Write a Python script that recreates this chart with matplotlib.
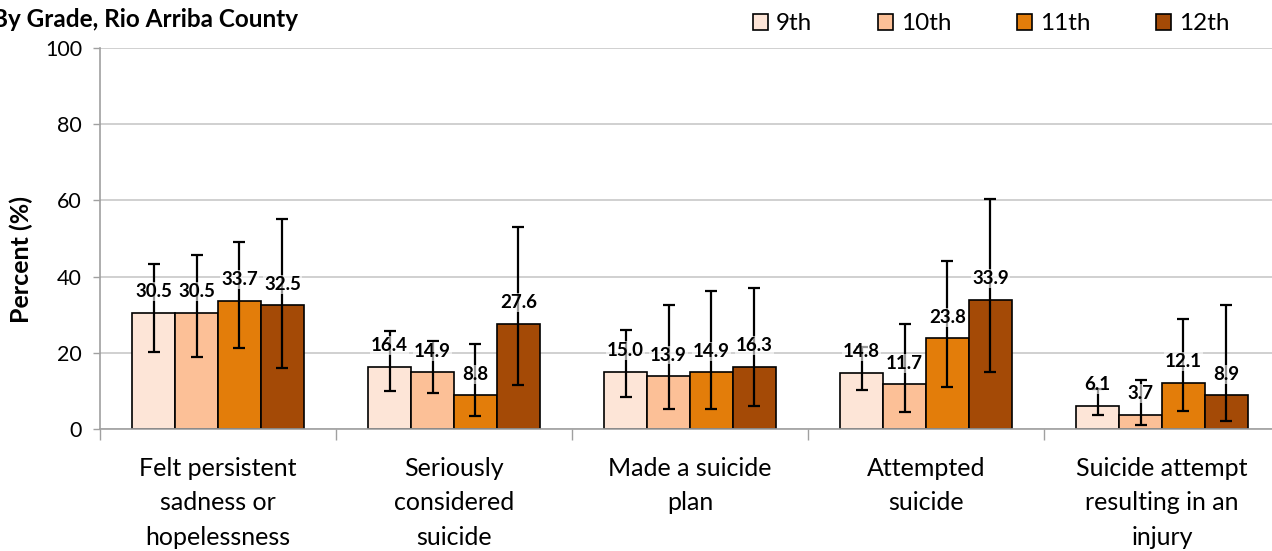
import matplotlib.pyplot as plt
import numpy as np

plt.rcParams['font.family'] = ['Lato', 'DejaVu Sans']

categorias = ["Felt persistent\nsadness or\nhopelessness", "Seriously\nconsidered\nsuicide",
              "Made a suicide\nplan", "Attempted\nsuicide", "Suicide attempt\nresulting in an\ninjury"]
grados = ["9th", "10th", "11th", "12th"]
colores = ["#FDE5D7", "#FCC097", "#E37D0A", "#A44A06"]

valores = [
    [30.5, 16.4, 15.0, 14.8, 6.1],
    [30.5, 14.9, 13.9, 11.7, 3.7],
    [33.7, 8.8, 14.9, 23.8, 12.1],
    [32.5, 27.6, 16.3, 33.9, 8.9],
]
ic_bajo = [
    [20.2, 10.1, 8.4, 10.2, 3.7],
    [18.8, 9.5, 5.2, 4.5, 1.1],
    [21.3, 3.4, 5.2, 11.1, 4.6],
    [16.1, 11.5, 6.0, 14.9, 2.1],
]
ic_alto = [
    [43.4, 25.8, 26.0, 21.5, 10.5],
    [45.7, 23.0, 32.5, 27.5, 12.8],
    [49.1, 22.2, 36.2, 44.2, 29.0],
    [55.1, 53.1, 37.0, 60.4, 32.5],
]

fig = plt.figure(figsize=(12.72, 5.51), dpi=100)
ax = fig.add_axes([100/1272, 1-429/551, 1180/1272, 381/551])

x = np.arange(len(categorias))
ancho = 0.182
for i in range(4):
    pos = x + (i - 1.5) * ancho
    v = np.array(valores[i])
    err = [v - np.array(ic_bajo[i]), np.array(ic_alto[i]) - v]
    ax.bar(pos, v, ancho, color=colores[i], edgecolor="black", linewidth=1.2,
           label=grados[i], zorder=2)
    ax.errorbar(pos, v, yerr=err, fmt="none", ecolor="black", elinewidth=1.6,
                capsize=4.5, capthick=1.6, zorder=3)
    for px, py in zip(pos, v):
        ax.annotate(f"{py:.1f}", (px, py), xytext=(0, 9), textcoords="offset points",
                    ha="center", va="bottom", fontsize=13.5, fontweight="bold", zorder=4,
                    bbox=dict(boxstyle="square,pad=0.05", fc="white", ec="none", alpha=0.6))

ax.set_xlim(-0.5, len(categorias) - 0.5)
ax.set_ylim(0, 100)
ax.set_yticks(range(0, 101, 20))
ax.set_xticks(x)
ax.set_xticklabels(categorias, fontsize=18, linespacing=1.6)
ax.set_xticks(np.arange(-0.5, len(categorias), 1), minor=True)
ax.tick_params(axis="x", which="major", length=0, pad=20)
ax.tick_params(axis="x", which="minor", length=8, color="#A0A0A0", width=1)
ax.tick_params(axis="y", labelsize=15.5, length=5, color="#A0A0A0", width=1, pad=8)
ax.grid(axis="y", color="#C8C8C8", linewidth=1.2, zorder=0)
ax.set_axisbelow(True)
for s in ["top", "right"]:
    ax.spines[s].set_visible(False)
for s in ["left", "bottom"]:
    ax.spines[s].set_color("#A0A0A0")
    ax.spines[s].set_linewidth(1.2)
ax.set_ylabel("Percent (%)", fontsize=18, fontweight="bold")
ax.yaxis.set_label_coords(-0.057, 0.446)

fig.text(-0.006, 0.965, "By Grade, Rio Arriba County", fontsize=17.5, fontweight="bold",
         ha="left", va="center")

leg = fig.legend(loc="center left", bbox_to_anchor=(753/1272, 1-24/551), ncol=4, frameon=False,
                 fontsize=17.5, handlelength=0.62, handleheight=0.62, handletextpad=0.33,
                 columnspacing=2.7, borderpad=0, borderaxespad=0)

plt.savefig("out.png", dpi=100)
